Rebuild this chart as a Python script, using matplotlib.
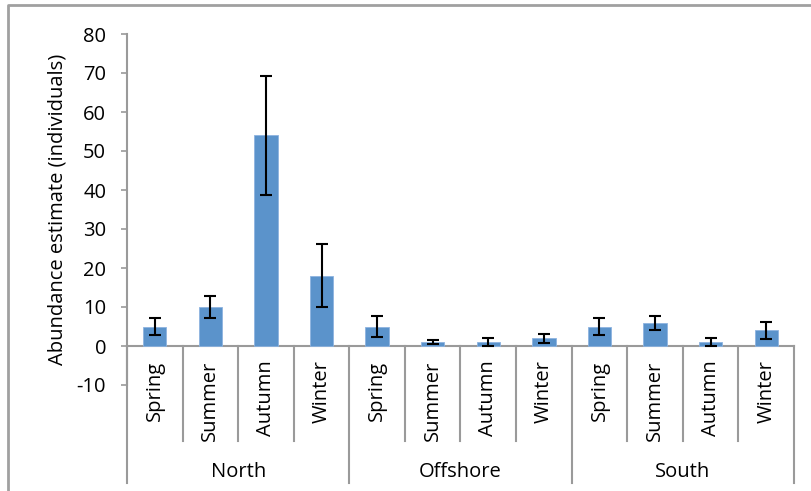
import matplotlib
matplotlib.use("Agg")
import matplotlib.pyplot as plt
from matplotlib.lines import Line2D
import numpy as np

plt.rcParams['font.family'] = ['Open Sans', 'DejaVu Sans']

# Abundance estimates by region and season
regions = ["North", "Offshore", "South"]
seasons = ["Spring", "Summer", "Autumn", "Winter"]
abundance = [5, 10, 54, 18,
             5, 1, 1, 2,
             5, 6, 1, 4]
error = [2.3, 2.9, 15.2, 8.1,
         2.7, 0.5, 1.0, 1.2,
         2.1, 1.8, 1.0, 2.2]
yticks = [-10, 0, 10, 20, 30, 40, 50, 60, 70, 80]

bar_color = '#5B93CB'
axis_gray = '#9A9A9A'
fs = 14.5

fig = plt.figure(figsize=(8.12, 4.91), dpi=100)
ax = fig.add_axes([127 / 812, 1 - 385 / 491, 667 / 812, 351 / 491])

x = np.arange(len(abundance))
ax.bar(x, abundance, width=0.42, color=bar_color, edgecolor='#8DB3E0', linewidth=0.6, zorder=2)
ax.errorbar(x, abundance, yerr=error, fmt='none', ecolor='black',
            elinewidth=1.5, capsize=4.5, capthick=1.5, zorder=3)

ax.set_xlim(-0.5, len(abundance) - 0.5)
ax.set_ylim(-10, 80)
ax.set_yticks(yticks)
ax.set_yticklabels([str(v) for v in yticks], fontsize=fs)
ax.tick_params(axis='y', direction='out', length=4, width=1.2, color=axis_gray, pad=11)
ax.set_xticks([])

for side in ['top', 'right', 'bottom']:
    ax.spines[side].set_visible(False)
ax.spines['left'].set_color(axis_gray)
ax.spines['left'].set_linewidth(1.5)

# category axis line at zero
ax.plot([-0.5, len(abundance) - 0.5], [0, 0], color=axis_gray, lw=1.5,
        clip_on=False, zorder=1)

# multi-level category table below the axis
season_bottom = -24.3
group_bottom = -35.1
n_seasons = len(seasons)
for i in range(len(abundance) + 1):
    xb = i - 0.5
    bottom = group_bottom if i % n_seasons == 0 else season_bottom
    ax.plot([xb, xb], [0, bottom], color=axis_gray, lw=1.5, clip_on=False, zorder=1)

for i in range(len(abundance)):
    ax.text(i, -3.7, seasons[i % n_seasons], rotation=90, ha='center', va='top',
            fontsize=fs, clip_on=False)

for g, name in enumerate(regions):
    xc = g * n_seasons + (n_seasons - 1) / 2
    ax.text(xc, -32.2, name, ha='center', va='center', fontsize=fs, clip_on=False)

ax.set_ylabel("Abundance estimate (individuals)", fontsize=fs)
ax.yaxis.set_label_coords(-0.089, 0.5)

# chart area border (left and top edges)
fig.add_artist(Line2D([8 / 812, 8 / 812, 1.0], [0.0, 1 - 5 / 491, 1 - 5 / 491],
                      transform=fig.transFigure, color='#A0A0A0', lw=2))

fig.savefig("out.png", dpi=100)
